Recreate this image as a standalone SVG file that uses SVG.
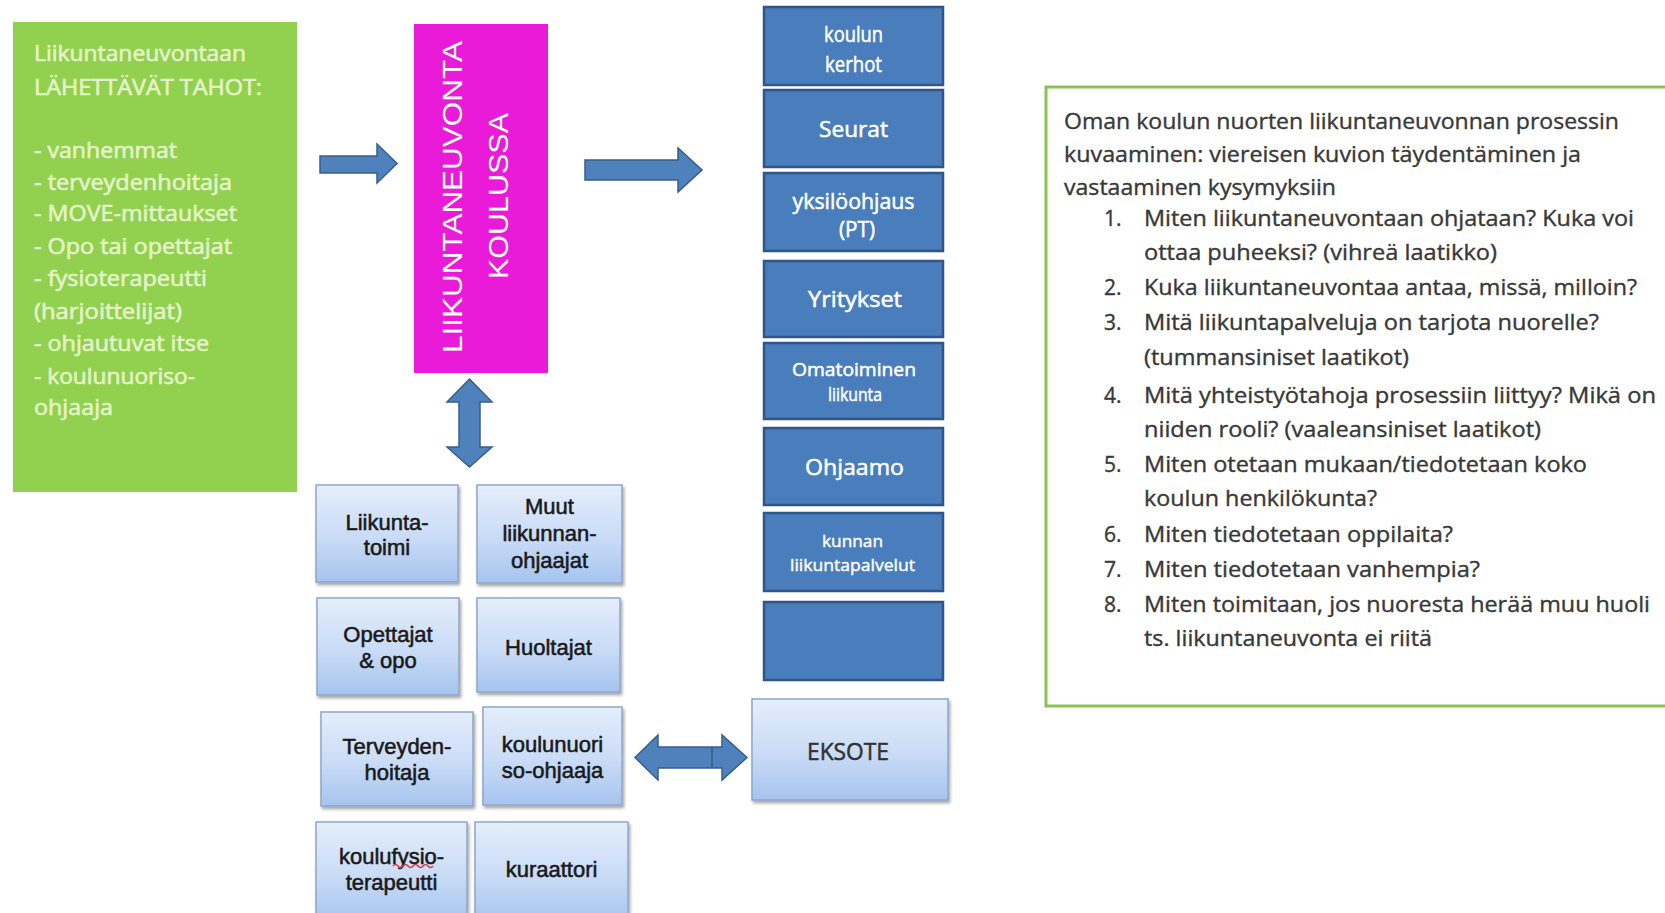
<svg xmlns="http://www.w3.org/2000/svg" width="1665" height="913" viewBox="0 0 1665 913">
<defs>
<linearGradient id="lb" x1="0" y1="0" x2="0" y2="1">
<stop offset="0" stop-color="#e4eefc"/>
<stop offset="0.55" stop-color="#c9dbf6"/>
<stop offset="1" stop-color="#a6c4ef"/>
</linearGradient>
<filter id="sh" x="-10%" y="-10%" width="125%" height="130%">
<feDropShadow dx="1.5" dy="2.5" stdDeviation="1.8" flood-color="#000" flood-opacity="0.35"/>
</filter>
<style>
.gt{font-family:"Open Sans","Noto Sans",sans-serif;font-size:21px;fill:#e4f4c8;stroke:#e4f4c8;stroke-width:0.6}
.mt{font-family:"Liberation Sans",Arial,sans-serif;font-size:28px;fill:#ffffff;text-anchor:middle}
.db{fill:#4a7dbb;stroke:#2f5687;stroke-width:2.5}
.dt{font-family:"Open Sans","Noto Sans",sans-serif;font-size:21px;fill:#ffffff;stroke:#ffffff;stroke-width:0.5;text-anchor:middle}
.lbx{fill:url(#lb);stroke:#8ea6c6;stroke-width:1.5;filter:url(#sh)}
.lt{font-family:"Liberation Sans",Arial,sans-serif;font-size:22px;fill:#1a1a1a;stroke:#1a1a1a;stroke-width:0.55;text-anchor:middle}
.arr{fill:#4f81bd;stroke:#385d8a;stroke-width:1.5;stroke-linejoin:miter}
.pt{font-family:"Open Sans","Noto Sans",sans-serif;font-size:21px;fill:#383838;stroke:#383838;stroke-width:0.35}
</style>
</defs>
<rect width="1665" height="913" fill="#ffffff"/>

<g id="lahettavat">
<rect x="13" y="22" width="284" height="470" fill="#92d050"/>
<text class="gt" x="34" y="61" textLength="212" lengthAdjust="spacingAndGlyphs">Liikuntaneuvontaan</text>
<text class="gt" x="34" y="95" textLength="228" lengthAdjust="spacingAndGlyphs">LÄHETTÄVÄT TAHOT:</text>
<text class="gt" x="34" y="158" textLength="143" lengthAdjust="spacingAndGlyphs">- vanhemmat</text>
<text class="gt" x="34" y="190" textLength="198" lengthAdjust="spacingAndGlyphs">- terveydenhoitaja</text>
<text class="gt" x="34" y="221" textLength="203" lengthAdjust="spacingAndGlyphs">- MOVE-mittaukset</text>
<text class="gt" x="34" y="254" textLength="198" lengthAdjust="spacingAndGlyphs">- Opo tai opettajat</text>
<text class="gt" x="34" y="286" textLength="173" lengthAdjust="spacingAndGlyphs">- fysioterapeutti</text>
<text class="gt" x="34" y="319" textLength="148" lengthAdjust="spacingAndGlyphs">(harjoittelijat)</text>
<text class="gt" x="34" y="351" textLength="175" lengthAdjust="spacingAndGlyphs">- ohjautuvat itse</text>
<text class="gt" x="34" y="384" textLength="161" lengthAdjust="spacingAndGlyphs">- koulunuoriso-</text>
<text class="gt" x="34" y="415" textLength="79" lengthAdjust="spacingAndGlyphs">ohjaaja</text>
</g>

<g id="liikuntaneuvonta-koulussa">
<rect x="414" y="24" width="134" height="349" fill="#ea1ad9"/>
<text class="mt" transform="translate(462,197) rotate(-90)" textLength="312" lengthAdjust="spacingAndGlyphs">LIIKUNTANEUVONTA</text>
<text class="mt" transform="translate(508,196) rotate(-90)" textLength="166" lengthAdjust="spacingAndGlyphs">KOULUSSA</text>
</g>

<g id="palvelut">
<g id="koulun-kerhot"><rect class="db" x="764" y="7" width="179" height="78"/>
<text class="dt" x="853.5" y="42" textLength="59" lengthAdjust="spacingAndGlyphs">koulun</text>
<text class="dt" x="853.5" y="72" textLength="57" lengthAdjust="spacingAndGlyphs">kerhot</text></g>
<g id="seurat"><rect class="db" x="764" y="90" width="179" height="77"/>
<text class="dt" x="853.5" y="137" textLength="69" lengthAdjust="spacingAndGlyphs">Seurat</text></g>
<g id="yksiloohjaus"><rect class="db" x="764" y="173" width="179" height="78"/>
<text class="dt" x="853.5" y="209" textLength="122" lengthAdjust="spacingAndGlyphs">yksilöohjaus</text>
<text class="dt" x="857" y="237" textLength="36" lengthAdjust="spacingAndGlyphs">(PT)</text></g>
<g id="yritykset"><rect class="db" x="764" y="261" width="179" height="76"/>
<text class="dt" x="855" y="307" textLength="94" lengthAdjust="spacingAndGlyphs">Yritykset</text></g>
<g id="omatoiminen"><rect class="db" x="764" y="343" width="179" height="76"/>
<text class="dt" x="854" y="376" style="font-size:18px" textLength="124" lengthAdjust="spacingAndGlyphs">Omatoiminen</text>
<text class="dt" x="855" y="401" style="font-size:18px" textLength="54" lengthAdjust="spacingAndGlyphs">liikunta</text></g>
<g id="ohjaamo"><rect class="db" x="764" y="428" width="179" height="77"/>
<text class="dt" x="854.5" y="475" textLength="99" lengthAdjust="spacingAndGlyphs">Ohjaamo</text></g>
<g id="kunnan-liikuntapalvelut"><rect class="db" x="764" y="513" width="179" height="78"/>
<text class="dt" x="852.5" y="547" style="font-size:16px;stroke-width:0.4" textLength="61" lengthAdjust="spacingAndGlyphs">kunnan</text>
<text class="dt" x="852.5" y="571" style="font-size:16px;stroke-width:0.4" textLength="125" lengthAdjust="spacingAndGlyphs">liikuntapalvelut</text></g>
<g id="tyhja"><rect class="db" x="764" y="602" width="179" height="78"/></g>
</g>

<g id="yhteistyotahot">
<g id="liikuntatoimi"><rect class="lbx" x="316" y="485" width="142" height="97"/>
<text class="lt" x="387" y="530">Liikunta-</text>
<text class="lt" x="387" y="555">toimi</text></g>
<g id="muut-ohjaajat"><rect class="lbx" x="477" y="485" width="145" height="98"/>
<text class="lt" x="549.5" y="514">Muut</text>
<text class="lt" x="549.5" y="541">liikunnan-</text>
<text class="lt" x="549.5" y="568">ohjaajat</text></g>
<g id="opettajat"><rect class="lbx" x="317" y="598" width="142" height="97"/>
<text class="lt" x="388" y="642">Opettajat</text>
<text class="lt" x="388" y="668">&amp; opo</text></g>
<g id="huoltajat"><rect class="lbx" x="477" y="598" width="143" height="94"/>
<text class="lt" x="548.5" y="655">Huoltajat</text></g>
<g id="terveydenhoitaja"><rect class="lbx" x="321" y="712" width="152" height="94"/>
<text class="lt" x="397" y="754">Terveyden-</text>
<text class="lt" x="397" y="780">hoitaja</text></g>
<g id="koulunuoriso-ohjaaja"><rect class="lbx" x="483" y="707" width="139" height="98"/>
<text class="lt" x="552.5" y="752">koulunuori</text>
<text class="lt" x="552.5" y="778">so-ohjaaja</text></g>
<g id="koulufysioterapeutti"><rect class="lbx" x="316" y="822" width="151" height="100"/>
<text class="lt" x="391.5" y="864">koulufysio-</text>
<text class="lt" x="391.5" y="890">terapeutti</text>
<path d="M393,866 q2.5,-3 5,0 t5,0 t5,0 t5,0 t5,0 t5,0 t5,0 t5,0" fill="none" stroke="#d9344a" stroke-width="1.4"/></g>
<g id="kuraattori"><rect class="lbx" x="475" y="822" width="153" height="100"/>
<text class="lt" x="551.5" y="877">kuraattori</text></g>
<g id="eksote"><rect class="lbx" x="752" y="699" width="196" height="101"/>
<text class="lt" x="848" y="760" style="font-family:'Open Sans','Noto Sans',sans-serif;font-size:23px;fill:#333;stroke:#333;stroke-width:0.5" textLength="82" lengthAdjust="spacingAndGlyphs">EKSOTE</text></g>
</g>

<g id="kysymykset">
<rect x="1046" y="87" width="630" height="619" fill="#ffffff" stroke="#8cc152" stroke-width="3"/>
<text class="pt" x="1064" y="129" textLength="555" lengthAdjust="spacingAndGlyphs">Oman koulun nuorten liikuntaneuvonnan prosessin</text>
<text class="pt" x="1064" y="162" textLength="517" lengthAdjust="spacingAndGlyphs">kuvaaminen: viereisen kuvion täydentäminen ja</text>
<text class="pt" x="1064" y="195" textLength="272" lengthAdjust="spacingAndGlyphs">vastaaminen kysymyksiin</text>
<text class="pt" x="1104" y="226">1.</text>
<text class="pt" x="1144" y="226" textLength="490" lengthAdjust="spacingAndGlyphs">Miten liikuntaneuvontaan ohjataan? Kuka voi</text>
<text class="pt" x="1144" y="260" textLength="353" lengthAdjust="spacingAndGlyphs">ottaa puheeksi? (vihreä laatikko)</text>
<text class="pt" x="1104" y="295">2.</text>
<text class="pt" x="1144" y="295" textLength="493" lengthAdjust="spacingAndGlyphs">Kuka liikuntaneuvontaa antaa, missä, milloin?</text>
<text class="pt" x="1104" y="330">3.</text>
<text class="pt" x="1144" y="330" textLength="455" lengthAdjust="spacingAndGlyphs">Mitä liikuntapalveluja on tarjota nuorelle?</text>
<text class="pt" x="1144" y="365" textLength="265" lengthAdjust="spacingAndGlyphs">(tummansiniset laatikot)</text>
<text class="pt" x="1104" y="403">4.</text>
<text class="pt" x="1144" y="403" textLength="512" lengthAdjust="spacingAndGlyphs">Mitä yhteistyötahoja prosessiin liittyy? Mikä on</text>
<text class="pt" x="1144" y="437" textLength="397" lengthAdjust="spacingAndGlyphs">niiden rooli? (vaaleansiniset laatikot)</text>
<text class="pt" x="1104" y="472">5.</text>
<text class="pt" x="1144" y="472" textLength="443" lengthAdjust="spacingAndGlyphs">Miten otetaan mukaan/tiedotetaan koko</text>
<text class="pt" x="1144" y="506" textLength="233" lengthAdjust="spacingAndGlyphs">koulun henkilökunta?</text>
<text class="pt" x="1104" y="542">6.</text>
<text class="pt" x="1144" y="542" textLength="309" lengthAdjust="spacingAndGlyphs">Miten tiedotetaan oppilaita?</text>
<text class="pt" x="1104" y="577">7.</text>
<text class="pt" x="1144" y="577" textLength="336" lengthAdjust="spacingAndGlyphs">Miten tiedotetaan vanhempia?</text>
<text class="pt" x="1104" y="612">8.</text>
<text class="pt" x="1144" y="612" textLength="506" lengthAdjust="spacingAndGlyphs">Miten toimitaan, jos nuoresta herää muu huoli</text>
<text class="pt" x="1144" y="646" textLength="288" lengthAdjust="spacingAndGlyphs">ts. liikuntaneuvonta ei riitä</text>
</g>

<g id="connectors">
<path class="arr" d="M320,156 L377,156 L377,144 L397,163.5 L377,183 L377,173 L320,173 Z"/>
<path class="arr" d="M585,160 L678,160 L678,148 L702,170 L678,192 L678,180 L585,180 Z"/>
<path class="arr" d="M469.5,379 L492,402 L480,402 L480,447 L492,447 L469.5,467 L447,447 L459,447 L459,402 L447,402 Z"/>
<path class="arr" d="M635,757.5 L658,735 L658,747 L722,747 L722,735 L747,757.5 L722,780 L722,768 L658,768 L658,780 Z"/>
<line x1="712" y1="747" x2="712" y2="768" stroke="#385d8a" stroke-width="1.5"/>
</g>
</svg>
